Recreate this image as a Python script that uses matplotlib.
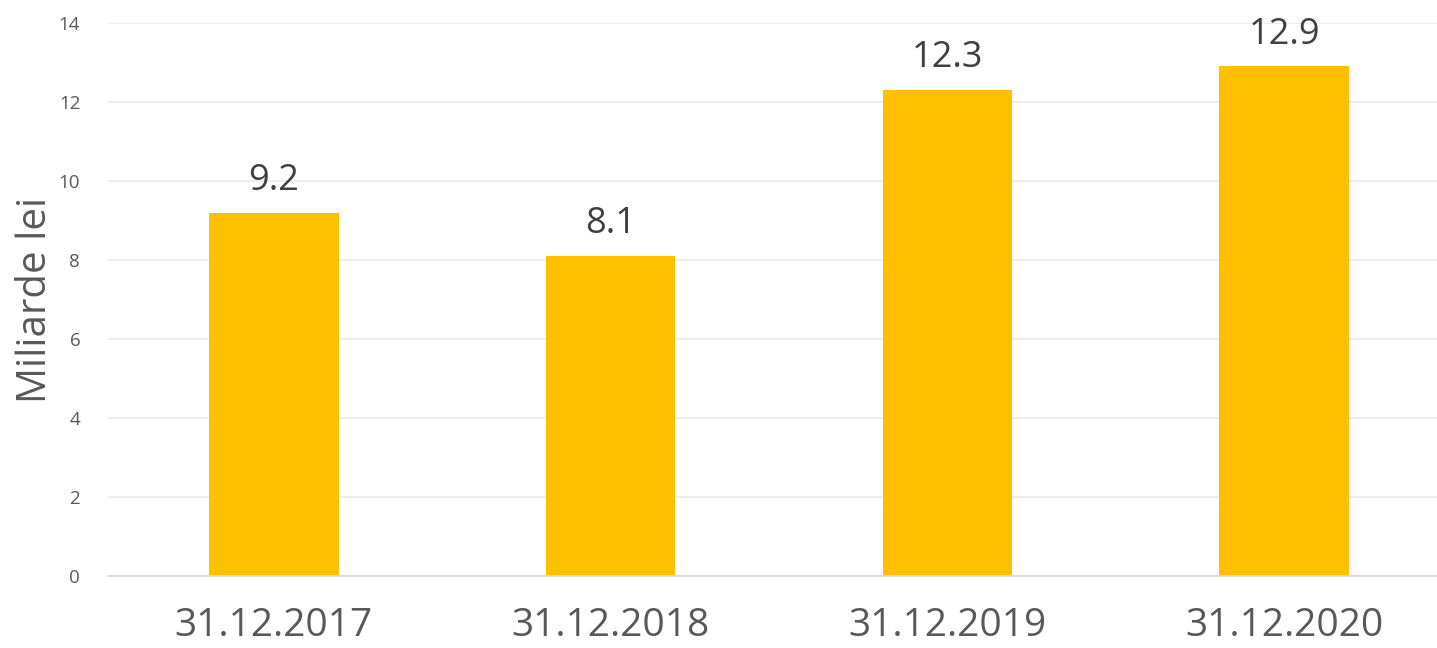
import matplotlib
matplotlib.use("Agg")
import matplotlib.pyplot as plt

categories = ["31.12.2017", "31.12.2018", "31.12.2019", "31.12.2020"]
values = [9.2, 8.1, 12.3, 12.9]
yticks = [0, 2, 4, 6, 8, 10, 12, 14]

plt.rcParams['font.family'] = ['Open Sans', 'DejaVu Sans']

W, H = 1437, 648
fig = plt.figure(figsize=(W / 100, H / 100), dpi=100)
ax = fig.add_axes([108 / W, (H - 576) / H, (1437 - 108) / W, (576 - 23) / H])

x = list(range(len(categories)))
bars = ax.bar(x, values, width=0.385, color="#FFC000", zorder=3)

for xi, v in zip(x, values):
    ax.annotate(f"{v:.1f}", (xi, v), xytext=(0, 10), textcoords="offset points",
                ha="center", va="bottom", fontsize=26, color="#404040")

ax.set_xlim(-0.4926, 3.454)
ax.set_ylim(0, 14)
ax.set_yticks(yticks)
ax.set_yticklabels([str(t) for t in yticks], fontsize=13.5, color="#595959")
ax.set_xticks(x)
ax.set_xticklabels(categories, fontsize=28, color="#595959")
ax.tick_params(axis="both", length=0)
ax.tick_params(axis="x", pad=22)
ax.tick_params(axis="y", pad=20)

ax.grid(axis="y", color="#EBEBEB", linewidth=1.2, zorder=0)
for s in ["top", "right", "left"]:
    ax.spines[s].set_visible(False)
ax.spines["bottom"].set_color("#D9D9D9")
ax.spines["bottom"].set_linewidth(1.3)
ax.spines["bottom"].set_zorder(4)

ax.set_ylabel("Miliarde lei", fontsize=29, color="#595959", labelpad=2)

fig.savefig("out.png", dpi=100)
